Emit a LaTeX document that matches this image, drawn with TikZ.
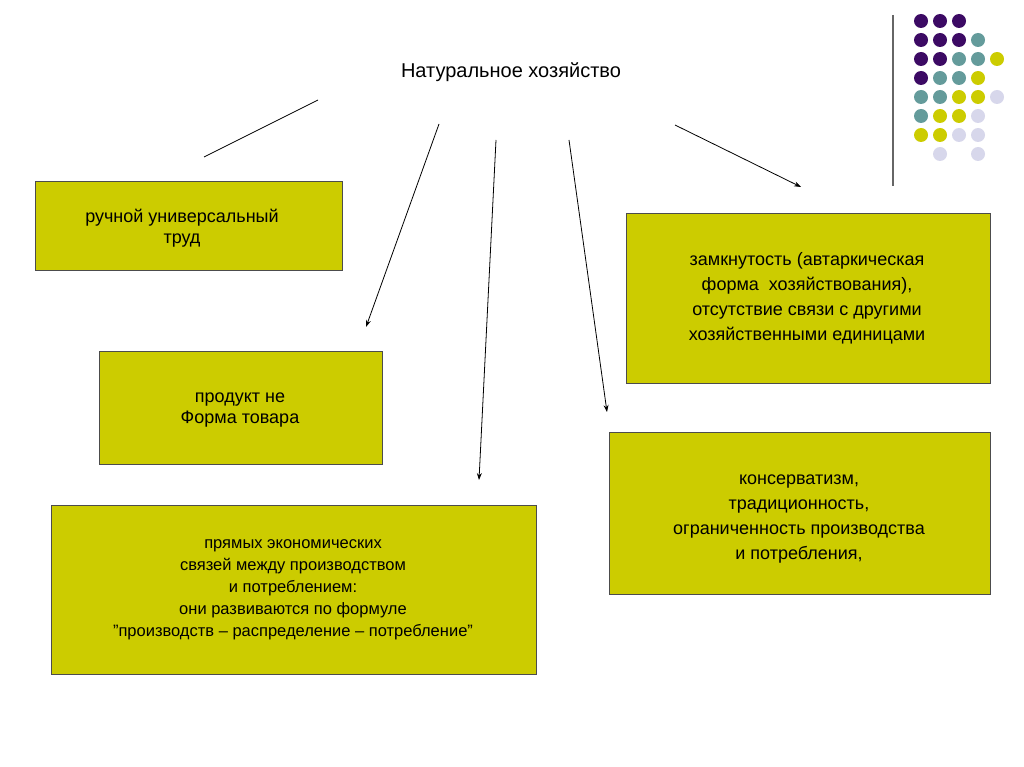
\documentclass[tikz,border=0pt]{standalone}
\usepackage{fontspec}
\setmainfont{Liberation Sans}
\usetikzlibrary{arrows.meta}
\definecolor{olive}{RGB}{204,204,0}
\definecolor{dotP}{RGB}{60,10,100}
\definecolor{dotT}{RGB}{100,155,155}
\definecolor{dotY}{RGB}{204,204,0}
\definecolor{dotL}{RGB}{215,215,235}
\tikzset{
  box/.style={draw=black!70, fill=olive, anchor=north west, inner sep=0pt},
  boxtext/.style={align=center, font=\fontsize{18}{21}\selectfont},
  link/.style={black, line width=0.8pt},
}
\begin{document}
\begin{tikzpicture}[x=1pt,y=-1pt,>={Stealth[length=7pt,width=5pt]}]
    \useasboundingbox (0,0) rectangle (1024,767);

    % Title
    \node[font=\fontsize{20}{24}\selectfont] (title) at (511,72) {Натуральное хозяйство};

    % Boxes
    \node[box, minimum width=307, minimum height=89] (b1) at (35,181) {};
    \node[box, minimum width=283, minimum height=113] (b2) at (99,351) {};
    \node[box, minimum width=485, minimum height=169] (b3) at (51,505) {};
    \node[box, minimum width=364, minimum height=170] (b4) at (626,213) {};
    \node[box, minimum width=381, minimum height=162] (b5) at (609,432) {};

    \node[boxtext] (t1) at (182,228) {ручной универсальный\\труд};
    \node[boxtext] (t2) at (240,410) {продукт не\\Форма товара};
    \node[boxtext, font=\fontsize{16.5}{22}\selectfont] (t3) at (293,590) {прямых экономических\\связей между производством\\и потреблением:\\они развиваются по формуле\\"производств -- распределение -- потребление"};
    \node[boxtext, font=\fontsize{18}{25}\selectfont] (t4) at (807,298) {замкнутость (автаркическая\\форма~ хозяйствования),\\отсутствие связи с другими\\хозяйственными единицами};
    \node[boxtext, font=\fontsize{18}{25}\selectfont] (t5) at (799,519) {консерватизм,\\традиционность,\\ограниченность производства\\и потребления,};

    % Connectors
    \coordinate (s1) at (318,100); \coordinate (e1) at (204,157);
    \coordinate (s2) at (439,124); \coordinate (e2) at (366,327);
    \coordinate (s3) at (496,140); \coordinate (e3) at (479,480);
    \coordinate (s4) at (569,140); \coordinate (e4) at (607,412);
    \coordinate (s5) at (675,125); \coordinate (e5) at (801,187);
    \draw[link] (s1) -- (e1);
    \foreach \i in {2,...,5} {
        \draw[link,->] (s\i) -- (e\i);
    };

    % Decoration
    \coordinate (vt) at (893,15); \coordinate (vb) at (893,186);
    \draw[gray!80!black, line width=1.2pt] (vt) -- (vb);
    \foreach \r/\row in {0/{P,P,P},1/{P,P,P,T},2/{P,P,T,T,Y},3/{P,T,T,Y},4/{T,T,Y,Y,L},5/{T,Y,Y,L},6/{Y,Y,L,L}} {
        \foreach \c [count=\k from 0] in \row {
            \fill[dot\c] (921+19*\k,21+19*\r) circle (7);
        };
    };
    \fill[dotL] (940,154) circle (7);
    \fill[dotL] (978,154) circle (7);
\end{tikzpicture}
\end{document}
